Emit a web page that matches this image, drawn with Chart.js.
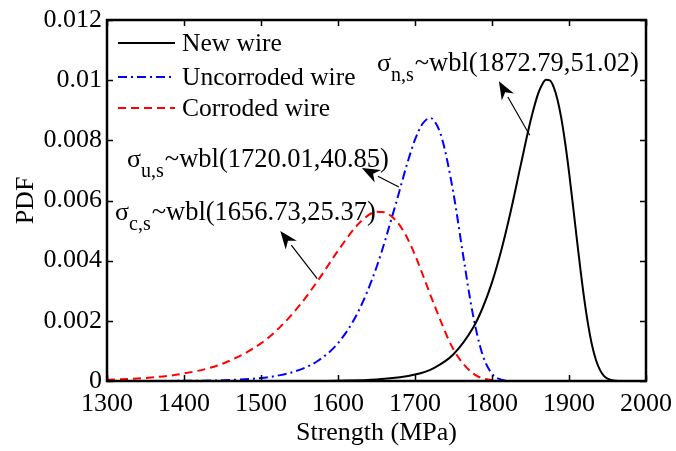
<!DOCTYPE html>
<html>
<head>
<meta charset="utf-8">
<script src="https://cdn.jsdelivr.net/npm/chart.js@4.4.1/dist/chart.umd.min.js"></script>
<style>
html, body { margin: 0; padding: 0; background: #fff; }
</style>
</head>
<body>
<canvas id="pdf-chart" width="676" height="451"></canvas>
<script>
// Datos (resistencia en MPa, densidad PDF)
const xNuevo = [1300, 1400, 1500, 1550, 1600, 1650, 1700, 1725, 1750, 1775, 1787.5, 1800, 1812.5, 1825, 1837.5, 1850, 1860, 1865, 1870, 1875, 1880, 1885, 1890, 1895, 1900, 1905, 1910, 1915, 1920, 1925, 1930, 1935, 1940, 1945, 1950, 1960, 1970, 2000];
const yNuevo = [0, 0, 0, 0.000002, 0.00001, 0.000048, 0.000214, 0.00044, 0.00089, 0.00175, 0.00241, 0.00328, 0.00439, 0.00572, 0.0072, 0.00864, 0.00956, 0.00985, 0.01001, 0.00999, 0.00978, 0.00936, 0.00874, 0.00792, 0.00695, 0.00587, 0.00476, 0.00368, 0.00269, 0.00185, 0.00118, 0.0007, 0.00038, 0.00018, 0.00008, 0.00001, 0, 0];

const xSinCorr = [1300, 1350, 1400, 1450, 1500, 1525, 1550, 1575, 1600, 1625, 1650, 1675, 1690, 1700, 1710, 1720, 1725, 1735, 1750, 1762.5, 1775, 1787.5, 1800, 1812.5, 1825, 1850, 1900, 1950, 2000];
const ySinCorr = [0, 0, 0.0000065, 0.000026, 0.0001, 0.000195, 0.00037, 0.00069, 0.00126, 0.00224, 0.00378, 0.00588, 0.00724, 0.00802, 0.00856, 0.00874, 0.00865, 0.00807, 0.00623, 0.00418, 0.00224, 0.00089, 0.00024, 0.00004, 0.000003, 0, 0, 0, 0];

const xCorr = [1300, 1350, 1400, 1450, 1500, 1525, 1550, 1575, 1600, 1625, 1640, 1650, 1660, 1675, 1687.5, 1700, 1725, 1750, 1775, 1800, 1825, 1850, 1900, 1950, 2000];
const yCorr = [0.00004, 0.0001, 0.00025, 0.000575, 0.00125, 0.0018, 0.00251, 0.00338, 0.00433, 0.00518, 0.00552, 0.00563, 0.00561, 0.00534, 0.00487, 0.00419, 0.00253, 0.00105, 0.00026, 0.00003, 0.000001, 0, 0, 0, 0];

const nombres = ['New wire', 'Uncorroded wire', 'Corroded wire'];
const colores = ['#000000', '#0000ff', '#ff0000'];
const trazos = [[], [9, 4, 2, 4], [8, 5]];

const ticksX = [1300, 1400, 1500, 1600, 1700, 1800, 1900, 2000];
const ticksY = [0, 0.002, 0.004, 0.006, 0.008, 0.01, 0.012];

// Etiquetas de las distribuciones: [sub, texto, x, y (base), x cola, y cola, x punta, y punta]
const etiquetas = [
    ['n,s', '~wbl(1872.79,51.02)', 1650.6, 0.01029, 1849, 0.00817, 1809, 0.00996],
    ['u,s', '~wbl(1720.01,40.85)', 1326, 0.00711, 1679, 0.00645, 1631, 0.00708],
    ['c,s', '~wbl(1656.73,25.37)', 1310.4, 0.00535, 1573, 0.0034, 1525, 0.00499]
];

const FUENTE = '"Liberation Serif", "DejaVu Serif", serif';

const aPuntos = (xs, ys) => xs.map((x, i) => ({ x, y: ys[i] }));

const series = [aPuntos(xNuevo, yNuevo), aPuntos(xSinCorr, ySinCorr), aPuntos(xCorr, yCorr)];

// Plugin para marco, marcas internas, leyenda y anotaciones
const marcoPlugin = {
    id: 'marco',
    afterDatasetsDraw(chart) {
        const { ctx, chartArea: a, scales } = chart;
        const sx = scales.x, sy = scales.y;
        ctx.save();

        // marcas hacia dentro en los cuatro lados
        ctx.strokeStyle = '#000';
        ctx.lineWidth = 1.5;
        ctx.beginPath();
        ticksX.forEach(v => {
            const px = Math.round(sx.getPixelForValue(v)) + 0.5;
            ctx.moveTo(px, a.bottom); ctx.lineTo(px, a.bottom - 6);
            ctx.moveTo(px, a.top); ctx.lineTo(px, a.top + 6);
        });
        ticksY.forEach(v => {
            const py = Math.round(sy.getPixelForValue(v)) + 0.5;
            ctx.moveTo(a.left, py); ctx.lineTo(a.left + 6, py);
            ctx.moveTo(a.right, py); ctx.lineTo(a.right - 6, py);
        });
        ctx.stroke();

        // caja
        ctx.lineWidth = 2.5;
        ctx.strokeRect(a.left, a.top, a.right - a.left, a.bottom - a.top);

        // leyenda
        ctx.font = '25.5px ' + FUENTE;
        ctx.textBaseline = 'middle';
        ctx.fillStyle = '#000';
        const filasLeyenda = [43, 77, 108];
        nombres.forEach((n, i) => {
            ctx.strokeStyle = colores[i];
            ctx.lineWidth = 2;
            ctx.setLineDash(trazos[i]);
            ctx.beginPath();
            ctx.moveTo(118, filasLeyenda[i]);
            ctx.lineTo(175, filasLeyenda[i]);
            ctx.stroke();
            ctx.setLineDash([]);
            ctx.fillText(n, 182, filasLeyenda[i] + 1);
        });

        // anotaciones con flechas
        ctx.textBaseline = 'alphabetic';
        etiquetas.forEach(e => {
            let px = sx.getPixelForValue(e[2]);
            const py = sy.getPixelForValue(e[3]);
            ctx.font = '26px ' + FUENTE;
            ctx.fillText('σ', px, py);
            px += ctx.measureText('σ').width;
            ctx.font = '20px ' + FUENTE;
            ctx.fillText(e[0], px, py + 10);
            px += ctx.measureText(e[0]).width + 1;
            ctx.font = '26.5px ' + FUENTE;
            ctx.fillText(e[1], px, py);

            const x1 = sx.getPixelForValue(e[4]), y1 = sy.getPixelForValue(e[5]);
            const x2 = sx.getPixelForValue(e[6]), y2 = sy.getPixelForValue(e[7]);
            const ang = Math.atan2(y2 - y1, x2 - x1);
            const largo = 18, ancho = 7;
            const bx = x2 - largo * Math.cos(ang), by = y2 - largo * Math.sin(ang);
            ctx.strokeStyle = '#000';
            ctx.lineWidth = 1.2;
            ctx.beginPath();
            ctx.moveTo(x1, y1);
            ctx.lineTo(bx, by);
            ctx.stroke();
            ctx.beginPath();
            ctx.moveTo(x2, y2);
            ctx.lineTo(bx + ancho * Math.sin(ang), by - ancho * Math.cos(ang));
            ctx.lineTo(x2 - 0.7 * largo * Math.cos(ang), y2 - 0.7 * largo * Math.sin(ang));
            ctx.lineTo(bx - ancho * Math.sin(ang), by + ancho * Math.cos(ang));
            ctx.closePath();
            ctx.fill();
        });

        // títulos de los ejes
        ctx.font = '26px ' + FUENTE;
        ctx.textAlign = 'center';
        ctx.textBaseline = 'middle';
        ctx.fillText('Strength (MPa)', (a.left + a.right) / 2, 433);
        ctx.translate(26, (a.top + a.bottom) / 2);
        ctx.rotate(-Math.PI / 2);
        ctx.fillText('PDF', 0, 0);
        ctx.restore();
    }
};

const ctx = document.getElementById('pdf-chart').getContext('2d');

new Chart(ctx, {
    type: 'line',
    data: {
        datasets: series.map((d, i) => ({
            label: nombres[i],
            data: d,
            borderColor: colores[i],
            borderWidth: 2,
            borderDash: trazos[i],
            pointRadius: 0,
            fill: false,
            cubicInterpolationMode: 'monotone'
        }))
    },
    options: {
        responsive: false,
        devicePixelRatio: 1,
        animation: false,
        layout: { padding: { top: 20, right: 30, left: 0, bottom: 0 } },
        plugins: {
            legend: { display: false },
            tooltip: { enabled: false }
        },
        scales: {
            x: {
                type: 'linear',
                min: 1300,
                max: 2000,
                afterFit: s => { s.height = 70; s.paddingLeft = 0; s.paddingRight = 0; },
                afterBuildTicks: s => { s.ticks = ticksX.map(v => ({ value: v })); },
                grid: { display: false, drawTicks: false },
                border: { display: false },
                ticks: {
                    color: '#000',
                    padding: 8,
                    maxRotation: 0,
                    font: { family: FUENTE, size: 26 },
                    callback: v => String(v)
                }
            },
            y: {
                type: 'linear',
                min: 0,
                max: 0.012,
                afterFit: s => { s.width = 107; s.paddingTop = 0; s.paddingBottom = 0; },
                afterBuildTicks: s => { s.ticks = ticksY.map(v => ({ value: v })); },
                grid: { display: false, drawTicks: false },
                border: { display: false },
                ticks: {
                    color: '#000',
                    padding: 5,
                    font: { family: FUENTE, size: 26 },
                    callback: v => (v === 0 ? '0' : String(+v.toFixed(3)))
                }
            }
        }
    },
    plugins: [marcoPlugin]
});
</script>
</body>
</html>
